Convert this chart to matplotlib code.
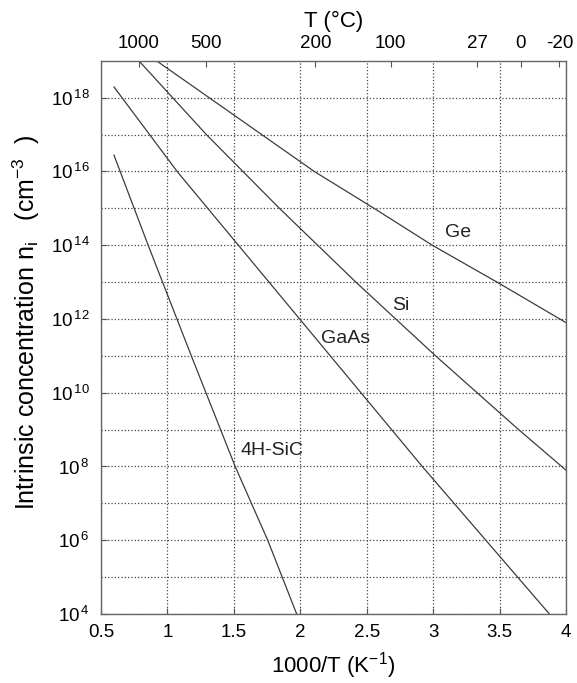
import numpy as np
import matplotlib.pyplot as plt
from matplotlib.ticker import FixedLocator, NullFormatter

plt.rcParams['font.family'] = ['Liberation Sans', 'DejaVu Sans']
plt.rcParams['mathtext.fontset'] = 'custom'
plt.rcParams['mathtext.rm'] = 'Liberation Sans'
plt.rcParams['mathtext.it'] = 'Liberation Sans:italic'
plt.rcParams['mathtext.default'] = 'regular'

# values: x = 1000/T, y = log10(n_i)
sic_x = [0.598, 0.855, 1.18, 1.51, 1.755, 1.973]
sic_log = [16.44, 14, 11, 8, 6, 4]
gaas_x = [0.598, 1.073, 1.995, 2.918, 3.875]
gaas_log = [18.29, 16, 12, 8, 4]
si_x = [0.793, 1.293, 1.843, 2.418, 3.018, 3.643, 4.0]
si_log = [18.97, 17, 15, 13, 11, 9, 7.9]
ge_x = [0.93, 1.314, 2.105, 2.555, 2.993, 3.48, 4.0]
ge_log = [18.97, 18, 16, 15, 14, 13, 11.9]

labels = ['Ge', 'Si', 'GaAs', '4H-SiC']
label_x = [3.19, 2.76, 2.34, 1.79]
label_log = [14.34, 12.36, 11.48, 8.44]

temps_c = [1000, 500, 200, 100, 27, 0, -20]
x_ticks = [0.5, 1, 1.5, 2, 2.5, 3, 3.5, 4]

fig = plt.figure(figsize=(5.77, 6.83), dpi=100)
ax = fig.add_axes([0.175, 0.101, 0.806, 0.810])

line_col = '#3c3c3c'
for xs, ls in [(sic_x, sic_log), (gaas_x, gaas_log), (si_x, si_log), (ge_x, ge_log)]:
    ax.plot(xs, 10.0 ** np.array(ls), color=line_col, lw=0.9)

for name, lx, ly in zip(labels, label_x, label_log):
    ax.text(lx, 10.0 ** ly, name, fontsize=14, ha='center', va='center', color='#222222')

ax.set_yscale('log')
ax.set_xlim(0.5, 4)
ax.set_ylim(1e4, 1e19)
ax.set_xticks(x_ticks)
ax.set_xticklabels(['0.5', '1', '1.5', '2', '2.5', '3', '3.5', '4'])
ax.yaxis.set_major_locator(FixedLocator([10.0 ** e for e in range(4, 19, 2)]))
ax.set_yticklabels([r'$10^{\,%d}$' % e for e in range(4, 19, 2)])
ax.yaxis.set_minor_locator(FixedLocator([10.0 ** e for e in range(5, 19, 2)]))
ax.yaxis.set_minor_formatter(NullFormatter())

ax.grid(True, which='both', axis='y', linestyle=':', color='#444444', lw=0.9)
ax.grid(True, which='major', axis='x', linestyle=':', color='#444444', lw=0.9)
ax.tick_params(axis='both', which='both', direction='in', labelsize=13.5, color='#555555', length=4)
ax.tick_params(axis='y', which='minor', length=0)
ax.tick_params(axis='y', pad=8)
ax.tick_params(axis='x', pad=7)
for s in ax.spines.values():
    s.set_color('#666666')
    s.set_linewidth(1.0)

ax.set_xlabel(r'1000/T (K$^{-1}$)', fontsize=16, labelpad=7)
ax.set_ylabel(r'Intrinsic concentration n$_{\rm i}$   (cm$^{-3}$  )', fontsize=18)
ax.yaxis.set_label_coords(-0.127, 0.527)

ax2 = ax.twiny()
ax2.set_xlim(ax.get_xlim())
ax2.set_xticks([1000.0 / (t + 273.15) for t in temps_c])
ax2.set_xticklabels([str(t) for t in temps_c])
ax2.tick_params(direction='in', labelsize=13.5, color='#555555', length=4, pad=6)
for s in ax2.spines.values():
    s.set_visible(False)
ax2.set_xlabel('T (°C)', fontsize=16, labelpad=6)

fig.savefig('out.png', dpi=100)
